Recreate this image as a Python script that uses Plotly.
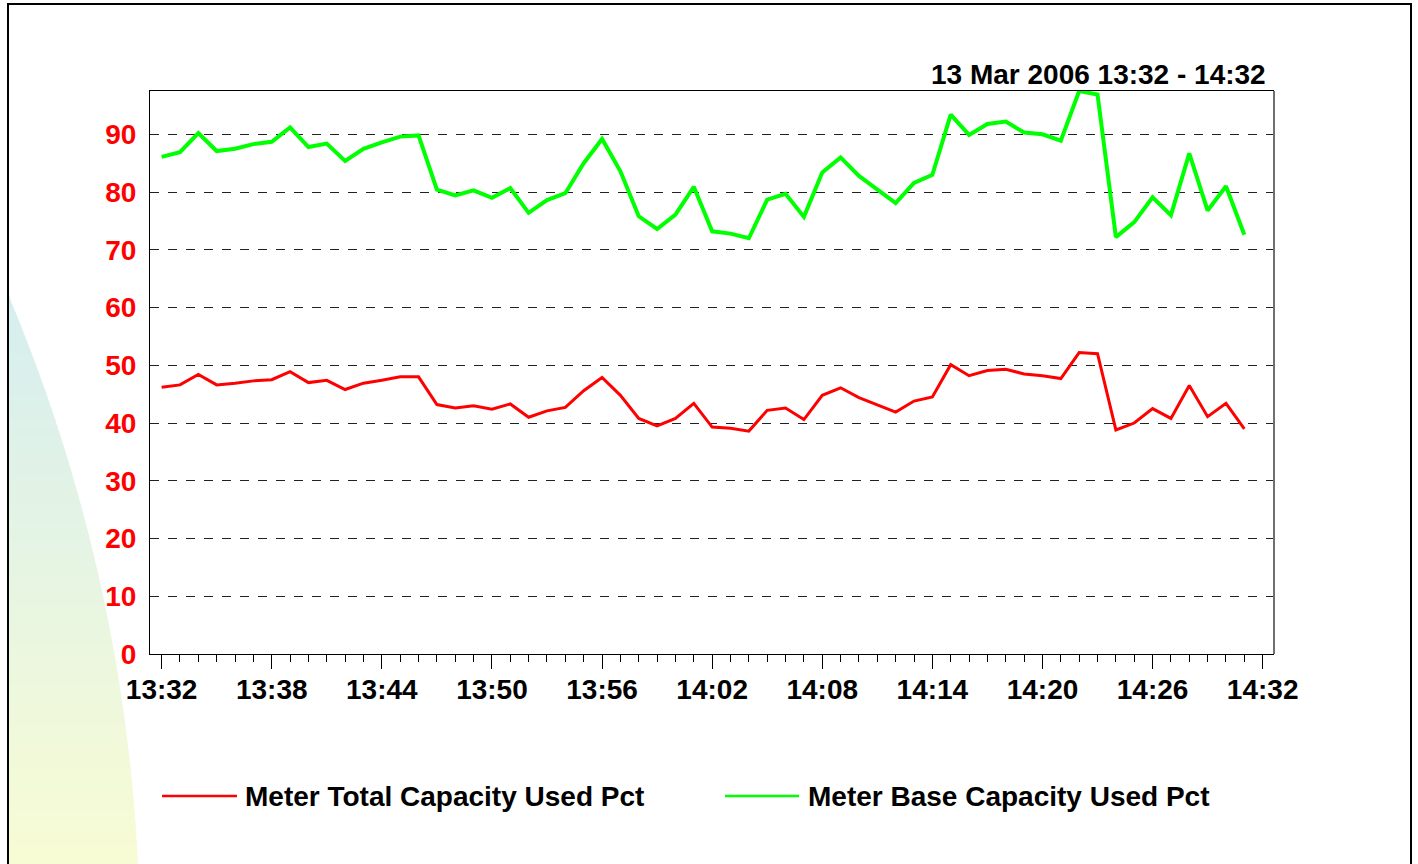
import plotly.graph_objects as go

# ---------------- data ----------------
date_str = "2006-03-13"
minutes = ["13:32", "13:33", "13:34", "13:35", "13:36", "13:37", "13:38", "13:39", "13:40", "13:41",
           "13:42", "13:43", "13:44", "13:45", "13:46", "13:47", "13:48", "13:49", "13:50", "13:51",
           "13:52", "13:53", "13:54", "13:55", "13:56", "13:57", "13:58", "13:59", "14:00", "14:01",
           "14:02", "14:03", "14:04", "14:05", "14:06", "14:07", "14:08", "14:09", "14:10", "14:11",
           "14:12", "14:13", "14:14", "14:15", "14:16", "14:17", "14:18", "14:19", "14:20", "14:21",
           "14:22", "14:23", "14:24", "14:25", "14:26", "14:27", "14:28", "14:29", "14:30", "14:31"]

total_pct = [46.2, 46.6, 48.4, 46.6, 46.9, 47.3, 47.5, 48.9, 47.0, 47.4,
             45.8, 46.9, 47.4, 48.0, 48.0, 43.2, 42.6, 43.0, 42.4, 43.3,
             41.0, 42.1, 42.7, 45.6, 47.9, 44.8, 40.8, 39.5, 40.8, 43.4,
             39.3, 39.1, 38.6, 42.2, 42.6, 40.6, 44.8, 46.1, 44.4, 43.2,
             41.9, 43.8, 44.5, 50.1, 48.2, 49.1, 49.3, 48.5, 48.2, 47.7,
             52.2, 52.0, 38.8, 40.0, 42.5, 40.8, 46.5, 41.1, 43.4, 39.0]

base_pct = [86.1, 86.9, 90.2, 87.1, 87.5, 88.3, 88.7, 91.2, 87.8, 88.4,
            85.4, 87.5, 88.6, 89.6, 89.8, 80.4, 79.4, 80.3, 79.0, 80.7,
            76.4, 78.6, 79.8, 85.0, 89.2, 83.6, 75.8, 73.6, 76.1, 80.9,
            73.2, 72.8, 72.0, 78.7, 79.7, 75.7, 83.4, 86.0, 82.8, 80.5,
            78.1, 81.6, 83.0, 93.4, 89.9, 91.8, 92.2, 90.3, 90.0, 88.9,
            97.5, 96.9, 72.2, 74.8, 79.1, 76.0, 86.7, 76.8, 81.0, 72.6]

series_names = ["Meter Total Capacity Used Pct", "Meter Base Capacity Used Pct"]
series_colors = ["#ff0000", "#00ff00"]
title_text = "13 Mar 2006 13:32 - 14:32"

x_times = [f"{date_str} {m}:00" for m in minutes]

# ---------------- layout geometry (pixels) ----------------
W, H = 1418, 864
PL, PR, PT, PB = 150, 1274, 91, 654   # plot area edges


def px(x):
    return (x - PL) / (PR - PL)


def py(y):
    return (PB - y) / (PB - PT)


FONT = "Liberation Sans, Arial, sans-serif"

fig = go.Figure()
fig.add_trace(go.Scatter(x=x_times, y=total_pct, mode="lines", name=series_names[0],
                         line=dict(color=series_colors[0], width=3)))
fig.add_trace(go.Scatter(x=x_times, y=base_pct, mode="lines", name=series_names[1],
                         line=dict(color=series_colors[1], width=4)))

shapes = []

# decorative background arc with vertical cyan->yellow gradient (in the left margin)
cx, cy, R = -1535.0, 946.0, 1675.0
y_start, y_end, step = 294, 870, 6
c_top = (214, 238, 240)
c_bot = (248, 252, 212)


def arc_x(y):
    d = R * R - (y - cy) ** 2
    return cx + max(d, 0) ** 0.5


y = y_start
while y < y_end:
    ya, yb = y, min(y + step + 1, y_end)
    t = ((ya + yb) / 2 - y_start) / (y_end - y_start)
    col = tuple(int(round(c_top[i] + (c_bot[i] - c_top[i]) * t)) for i in range(3))
    xa, xb = max(arc_x(ya), 9), max(arc_x(yb), 9)
    path = (f"M {px(9)},{py(ya)} L {px(xa)},{py(ya)} L {px(xb)},{py(yb)} "
            f"L {px(9)},{py(yb)} Z")
    shapes.append(dict(type="path", path=path, xref="paper", yref="paper",
                       fillcolor=f"rgb{col}", line=dict(width=0), layer="below"))
    y += step

# outer frame
shapes.append(dict(type="path", xref="paper", yref="paper",
                   path=f"M {px(8)},{py(880)} L {px(8)},{py(4)} L {px(1411)},{py(4)} L {px(1411)},{py(880)}",
                   line=dict(color="black", width=2), layer="above"))

# right edge of plot area (grey)
shapes.append(dict(type="line", xref="paper", yref="paper", x0=1, x1=1, y0=0, y1=1,
                   line=dict(color="#707070", width=2)))

# manual legend samples
legend_y = 796
legend_items = [(162, 237, 243), (725, 799, 806)]
annotations = []
for (x0, x1, xt), name, col in zip(legend_items, series_names, series_colors):
    shapes.append(dict(type="line", xref="paper", yref="paper",
                       x0=px(x0), x1=px(x1), y0=py(legend_y), y1=py(legend_y),
                       line=dict(color=col, width=2.5)))
    annotations.append(dict(text=name, xref="paper", yref="paper", x=px(xt), y=py(legend_y),
                            xanchor="left", yanchor="middle", showarrow=False,
                            font=dict(family=FONT, size=28, color="black", weight="bold")))

annotations.append(dict(text=title_text, xref="paper", yref="paper", x=px(1268), y=py(75),
                        xanchor="right", yanchor="middle", showarrow=False,
                        font=dict(family=FONT, size=28, color="black", weight="bold")))

fig.update_layout(
    width=W, height=H,
    margin=dict(l=PL, r=W - PR, t=PT, b=H - PB, pad=0),
    paper_bgcolor="white", plot_bgcolor="white",
    showlegend=False,
    shapes=shapes, annotations=annotations,
    font=dict(family=FONT),
)

fig.update_xaxes(
    type="date",
    range=[f"{date_str} 13:31:22", f"{date_str} 14:32:37"],
    tickformat="%H:%M", tick0=f"{date_str} 13:32:00", dtick=360000,
    ticks="outside", ticklen=14, tickwidth=1, tickcolor="black",
    minor=dict(ticks="outside", ticklen=7, tickwidth=1, tickcolor="black",
               tick0=f"{date_str} 13:32:00", dtick=60000, showgrid=False),
    showline=True, linecolor="black", linewidth=1, mirror=True,
    showgrid=False, zeroline=False,
    tickfont=dict(family=FONT, size=28, color="black", weight="bold"),
    ticklabelstandoff=-4,
)

fig.update_yaxes(
    range=[0, 97.5], tick0=0, dtick=10,
    ticks="", showline=True, linecolor="black", linewidth=1,
    showgrid=True, gridcolor="#222222", gridwidth=1, griddash="9px,9px",
    zeroline=False,
    tickfont=dict(family=FONT, size=28, color="#ff0000", weight="bold"),
    ticklabelstandoff=7,
)

fig.write_html("out.html", config={"displayModeBar": False},
               post_script="document.body.style.margin='0';document.body.style.overflow='hidden';")
